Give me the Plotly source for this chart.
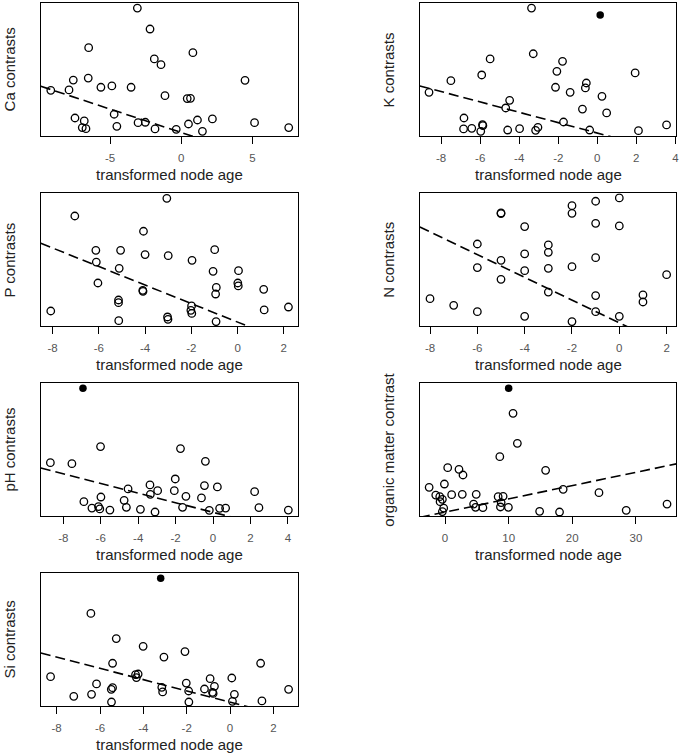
import plotly.graph_objects as go

W, H = 685, 753

# ---------------- data (y in relative units, 0 = bottom of panel, 100 = top) ----------------
ca_x = [-3.08, -2.19, -6.50, 0.82, -1.89, -1.42, -7.58, -6.53, 4.48, -9.16, -7.88, -5.64, -4.87,
        -3.52, -1.14, 0.42, 0.65, -7.46, -6.81, -6.95, -6.69, -4.71, -4.52, -3.03, -2.52, -1.84,
        -0.35, 0.51, 1.14, 1.49, 2.19, 5.15, 7.55]
ca_y = [96.0, 80.3, 66.3, 62.6, 57.9, 53.6, 42.1, 43.6, 41.9, 34.4, 34.7, 36.7, 37.7,
        36.7, 30.4, 28.2, 28.4, 13.7, 11.5, 6.5, 5.7, 16.5, 7.5, 10.2, 10.5, 5.5,
        5.2, 9.2, 12.2, 3.7, 13.0, 10.2, 6.5]
ca_out_x, ca_out_y = [], []
ca_fit = (2.86, -3.51)

k_x = [-3.37, -3.28, -5.49, -1.78, -2.07, 1.94, -7.50, -5.92, -0.56, -0.61, -2.14, -1.39, 0.24,
       -8.62, -4.49, -4.69, -0.76, 0.48, -6.83, -6.85, -6.43, -5.88, -5.86, -5.97, -4.59, -3.98,
       -3.16, -3.04, -1.73, -0.39, 2.11, 3.55]
k_y = [96.0, 61.8, 57.9, 56.1, 48.6, 47.4, 41.6, 45.9, 39.9, 36.2, 36.7, 32.9, 29.9,
       32.9, 26.9, 21.2, 20.4, 17.5, 13.7, 5.5, 6.0, 8.7, 8.0, 3.7, 4.7, 5.7,
       4.5, 6.7, 10.7, 4.7, 4.2, 8.5]
k_out_x, k_out_y = [0.15], [90.8]
k_fit = (2.44, -3.88)

p_x = [-3.06, -7.04, -4.07, -6.13, -5.06, -4.00, -3.00, -0.99, -1.97, -6.11, -5.12, -1.06, 0.04,
       -6.04, 0.01, 0.03, -4.10, -4.09, -0.92, -0.95, 1.13, -5.15, -5.15, -8.08, -1.99, -2.02,
       -1.98, -5.14, -3.03, -3.01, -0.93, 1.15, 2.20]
p_y = [96.2, 82.9, 71.4, 57.0, 57.0, 53.8, 53.0, 57.5, 49.5, 48.2, 43.5, 41.2, 41.7,
       32.4, 32.4, 30.2, 26.9, 26.1, 29.1, 24.1, 27.6, 19.6, 17.6, 11.3, 15.1, 11.8,
       9.5, 4.0, 6.8, 5.0, 3.3, 12.1, 14.3]
p_out_x, p_out_y = [], []
p_fit = (2.93, -6.98)

n_x = [0, -1, -2, -2, -5, -5, -1, 0, -4, -6, -3, -3, -4, -1, -5, -6, -4, -3, -2, 2, -5, -3,
       -8, -7, -6, -4, -2, -1, -1, 0, 1, 1]
n_y = [96.5, 94.0, 90.7, 84.9, 85.2, 84.7, 77.4, 75.4, 74.9, 61.8, 61.1, 55.5, 54.3, 51.5,
       49.5, 44.0, 41.7, 43.5, 44.7, 38.7, 35.2, 25.6, 20.6, 15.6, 10.8, 7.3, 3.3, 22.9,
       10.8, 7.3, 23.4, 18.1]
n_out_x, n_out_y = [], []
n_fit = (2.40, -8.57)

ph_x = [-6.01, -1.74, -8.69, -7.54, -0.41, -2.02, -3.37, -4.54, -2.96, -3.35, -2.07, -0.46, 0.23,
        2.22, -6.90, -5.99, -4.75, -1.45, -0.62, -6.47, -6.12, -6.05, -5.51, -4.63, -3.88, -3.10,
        -1.63, -0.20, 0.35, 0.67, 2.45, 4.02]
ph_y = [52.3, 50.8, 40.2, 39.4, 41.2, 27.9, 23.4, 20.4, 19.1, 16.3, 19.1, 22.9, 21.9,
        18.3, 10.8, 14.3, 11.8, 14.8, 13.6, 6.0, 7.0, 5.3, 4.5, 6.5, 5.0, 3.0,
        6.5, 4.3, 5.8, 6.0, 6.3, 4.5]
ph_out_x, ph_out_y = [-6.95], [96.2]
ph_fit = (2.76, -3.63)

om_x = [10.69, 11.37, 8.61, 0.42, 2.19, 2.82, 15.81, -2.50, -0.10, -1.46, -0.83, -0.42, -0.78,
        1.04, 2.71, 4.90, -0.21, -0.42, 4.49, 4.80, 5.95, 8.35, 9.13, 8.82, 8.71, 9.96,
        14.87, 18.00, 18.57, 24.20, 28.48, 34.90]
om_y = [77.4, 54.8, 44.7, 36.4, 35.2, 30.9, 34.4, 21.6, 24.1, 15.8, 14.6, 12.6, 10.8,
        16.1, 16.3, 16.3, 6.0, 3.3, 9.0, 6.5, 6.3, 14.6, 14.8, 10.1, 6.8, 6.5,
        3.5, 3.0, 20.1, 17.6, 4.3, 9.0]
om_out_x, om_out_y = [10.0], [96.2]
om_fit = (2.91, 1.00)

si_x = [-6.42, -5.25, -4.01, -2.08, -3.05, -5.42, 1.41, -8.28, -4.36, -4.24, -4.32, -0.92, 0.08,
        -6.16, -2.02, -5.42, -5.48, -3.15, -3.11, -1.91, -1.18, -0.72, -0.81, -0.78, 0.20, 0.11,
        -7.21, -6.39, -5.47, -1.90, 1.47, 2.70]
si_y = [69.8, 50.8, 45.0, 41.0, 36.9, 32.2, 32.2, 22.1, 23.6, 24.1, 21.4, 20.6, 21.1,
        16.6, 17.3, 13.8, 12.6, 14.1, 10.6, 11.3, 12.8, 14.8, 10.3, 9.5, 8.8, 3.5,
        7.3, 8.8, 3.0, 3.0, 3.8, 12.6]
si_out_x, si_out_y = [-3.20], [96.2]
si_fit = (2.92, -4.24)

y_labels = ["Ca contrasts", "K contrasts", "P contrasts", "N contrasts",
            "pH contrasts", "organic matter contrast", "Si contrasts"]
x_label = "transformed node age"
x_ranges = [(-9.86, 8.18), (-9.09, 4.05), (-8.51, 2.60), (-8.43, 2.41),
            (-9.20, 4.52), (-3.96, 36.36), (-8.73, 3.12)]
x_ticks = [[-5, 0, 5], [-8, -6, -4, -2, 0, 2, 4], [-8, -6, -4, -2, 0, 2],
           [-8, -6, -4, -2, 0, 2], [-8, -6, -4, -2, 0, 2, 4], [0, 10, 20, 30],
           [-8, -6, -4, -2, 0, 2]]

# ---------------- layout geometry (window pixels) ----------------
cols = [(41, 299), (421.7, 679.3)]
rows = [(2.7, 136.3), (193.3, 326), (383.3, 516), (573.3, 706)]

panels = [
    (ca_x, ca_y, ca_out_x, ca_out_y, ca_fit),
    (k_x, k_y, k_out_x, k_out_y, k_fit),
    (p_x, p_y, p_out_x, p_out_y, p_fit),
    (n_x, n_y, n_out_x, n_out_y, n_fit),
    (ph_x, ph_y, ph_out_x, ph_out_y, ph_fit),
    (om_x, om_y, om_out_x, om_out_y, om_fit),
    (si_x, si_y, si_out_x, si_out_y, si_fit),
]


def px(v):
    return v / W


def py(v):
    return 1 - v / H


FONT = "Liberation Sans, Arial, sans-serif"
fig = go.Figure()
layout = dict(width=W, height=H, margin=dict(l=0, r=0, t=0, b=0, pad=0),
              paper_bgcolor="white", plot_bgcolor="white", showlegend=False,
              font=dict(family=FONT))
annotations = []

for i, (xs, ys, oxs, oys, fit) in enumerate(panels):
    r, c = divmod(i, 2)
    x0, x1 = cols[c]
    y0, y1 = rows[r]
    sfx = "" if i == 0 else str(i + 1)
    xa, ya = "x" + sfx, "y" + sfx
    xr = x_ranges[i]
    layout["xaxis" + sfx] = dict(
        domain=[px(x0), px(x1)], range=list(xr), anchor=ya,
        showline=True, mirror=True, linecolor="black", linewidth=1.3,
        showgrid=False, zeroline=False, ticks="outside", ticklen=7, tickwidth=1.2,
        tickcolor="black", tickvals=x_ticks[i], ticktext=[str(t) for t in x_ticks[i]],
        tickfont=dict(size=11.5, color="#555", family=FONT), ticklabelstandoff=4)
    layout["yaxis" + sfx] = dict(
        domain=[py(y1), py(y0)], range=[0, 100], anchor=xa,
        showline=True, mirror=True, linecolor="black", linewidth=1.3,
        showgrid=False, zeroline=False, showticklabels=False, ticks="")
    a, b = fit
    fx = [xr[0], xr[1]]
    fy = [a + b * v for v in fx]
    fig.add_trace(go.Scatter(x=fx, y=fy, mode="lines", xaxis=xa, yaxis=ya,
                             line=dict(color="black", width=1.6, dash="10px,5px")))
    fig.add_trace(go.Scatter(x=xs, y=ys, mode="markers", xaxis=xa, yaxis=ya,
                             marker=dict(symbol="circle-open", size=7.5, color="black",
                                         line=dict(width=1.3, color="black"))))
    if oxs:
        fig.add_trace(go.Scatter(x=oxs, y=oys, mode="markers", xaxis=xa, yaxis=ya,
                                 marker=dict(symbol="circle", size=7.5, color="black")))
    # axis titles
    annotations.append(dict(text=x_label, xref="paper", yref="paper",
                            x=px((x0 + x1) / 2), y=py(y1 + 38),
                            xanchor="center", yanchor="middle", showarrow=False,
                            font=dict(size=15, color="#222", family=FONT)))
    annotations.append(dict(text=y_labels[i], xref="paper", yref="paper",
                            x=px(x0 - 31), y=py((y0 + y1) / 2), textangle=-90,
                            xanchor="center", yanchor="middle", showarrow=False,
                            font=dict(size=15, color="#222", family=FONT)))

layout["annotations"] = annotations
fig.update_layout(**layout)
# remove the default 8px page margin so the figure fills the window exactly
fig.write_html("out.html", config={"displayModeBar": False},
               post_script="document.body.style.margin='0px';document.body.style.overflow='hidden';")
